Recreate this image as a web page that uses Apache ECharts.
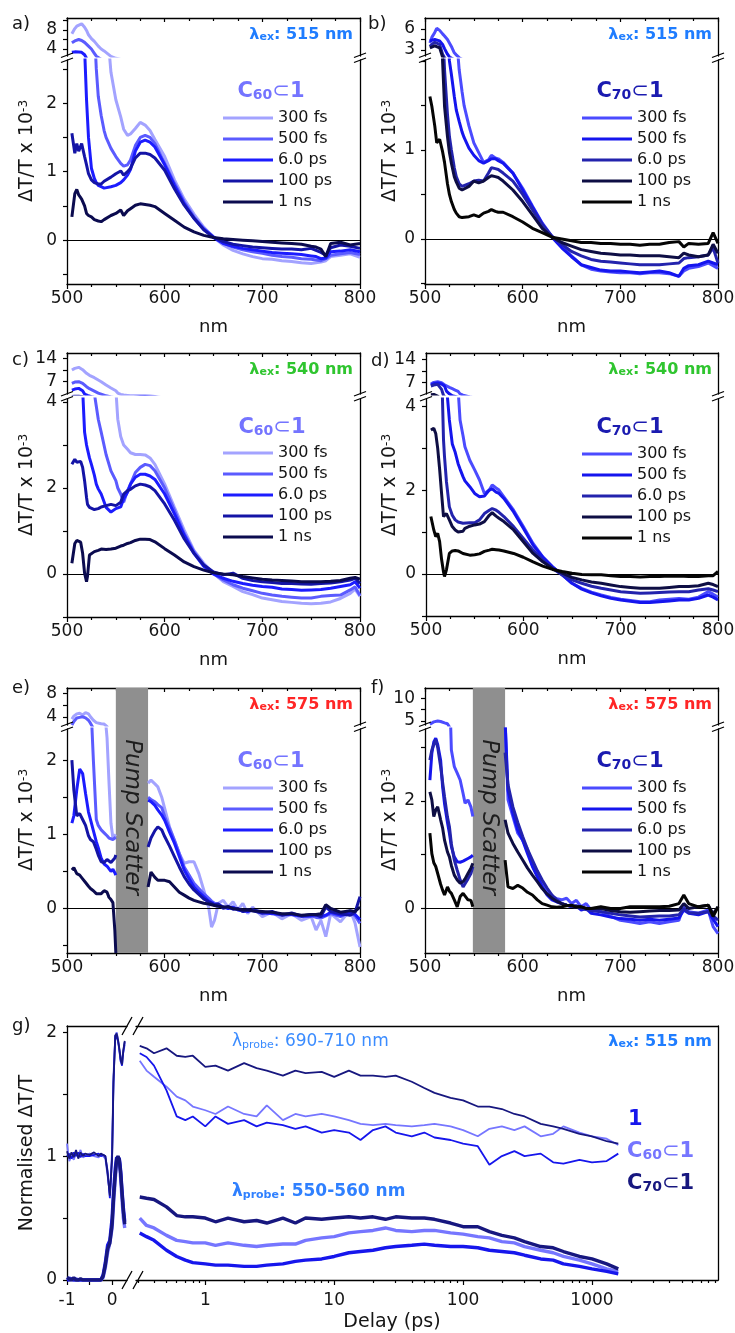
<!DOCTYPE html>
<html><head><meta charset="utf-8">
<script src="https://cdn.jsdelivr.net/npm/echarts@6/dist/echarts.min.js"></script>
<style>html,body{margin:0;padding:0;background:#fff}#c{width:735px;height:1333px}</style>
</head><body><div id="c"></div>
<script>
// ---------------- DATA ----------------
const delayNames = ['300 fs', '500 fs', '6.0 ps', '100 ps', '1 ns'];

// panel a : C60⊂1, λex 515 nm
const wlA = [505,508,510,512,515,518,520,522,525,528,530,532,535,538,540,545,550,555,558,562,565,570,575,580,585,590,600,610,620,630,640,650,660,670,680,690,700,710,720,730,740,750,755,760,765,770,780,790,800];
const a300fs = [7.2,8.3,8.8,9.2,9.3,8.6,7.9,7.0,6.2,5.6,5.2,4.6,4.0,3.6,3.3,2.45,2.05,1.8,1.62,1.53,1.55,1.63,1.72,1.68,1.6,1.47,1.22,0.88,0.6,0.38,0.19,0.04,-0.07,-0.15,-0.2,-0.24,-0.27,-0.28,-0.3,-0.31,-0.33,-0.34,-0.33,-0.32,-0.3,-0.24,-0.22,-0.2,-0.25];
const a500fs = [5.3,5.7,5.9,6.0,5.8,5.4,5.1,4.6,4.0,3.1,2.5,2.1,1.82,1.6,1.5,1.34,1.22,1.12,1.08,1.1,1.17,1.38,1.5,1.53,1.5,1.41,1.12,0.83,0.56,0.34,0.17,0.05,-0.04,-0.1,-0.14,-0.17,-0.19,-0.22,-0.24,-0.25,-0.27,-0.28,-0.29,-0.3,-0.27,-0.22,-0.2,-0.18,-0.21];
const a6ps = [3.3,3.4,3.4,3.35,3.3,2.8,2.05,1.5,1.05,0.9,0.84,0.8,0.78,0.76,0.76,0.78,0.8,0.84,0.88,0.95,1.03,1.3,1.43,1.46,1.43,1.36,1.1,0.8,0.53,0.32,0.16,0.04,-0.05,-0.09,-0.12,-0.14,-0.16,-0.18,-0.19,-0.2,-0.21,-0.23,-0.24,-0.27,-0.26,-0.17,-0.16,-0.14,-0.17];
const a100ps = [1.56,1.27,1.41,1.3,1.41,1.22,1.1,0.97,0.88,0.84,0.82,0.82,0.82,0.86,0.88,0.92,0.97,1.01,0.95,1.0,1.05,1.2,1.27,1.27,1.25,1.2,1.02,0.75,0.51,0.32,0.15,0.04,-0.02,-0.06,-0.08,-0.1,-0.11,-0.12,-0.13,-0.13,-0.14,-0.12,-0.15,-0.18,-0.22,-0.11,-0.07,-0.09,-0.12];
const a1ns = [0.34,0.68,0.74,0.66,0.6,0.5,0.39,0.36,0.34,0.3,0.29,0.28,0.27,0.3,0.32,0.36,0.39,0.44,0.36,0.43,0.46,0.51,0.53,0.52,0.51,0.49,0.39,0.29,0.19,0.12,0.07,0.04,0.02,0.01,0.0,-0.01,-0.02,-0.03,-0.04,-0.05,-0.06,-0.09,-0.1,-0.13,-0.24,-0.05,-0.03,-0.07,-0.05];

// panel b : C70⊂1, λex 515 nm
const wlB = [505,507,510,512,515,518,520,523,525,527,530,532,535,538,540,545,550,555,560,565,568,572,575,580,590,600,610,620,630,640,650,660,670,680,690,700,710,720,730,740,750,760,765,770,780,790,795,800];
const b300fs = [4.0,4.8,5.5,6.1,5.8,5.3,5.0,4.5,4.0,3.5,2.6,2.3,1.9,1.65,1.5,1.27,1.08,0.97,0.86,0.89,0.94,0.91,0.9,0.86,0.74,0.57,0.37,0.18,0.03,-0.08,-0.19,-0.29,-0.34,-0.36,-0.37,-0.38,-0.38,-0.39,-0.38,-0.38,-0.39,-0.42,-0.36,-0.33,-0.31,-0.27,-0.3,-0.33];
const b500fs = [4.3,4.4,4.5,4.4,4.3,3.8,3.2,2.4,2.0,1.85,1.6,1.45,1.32,1.2,1.14,1.02,0.94,0.88,0.85,0.88,0.9,0.9,0.88,0.85,0.74,0.55,0.36,0.17,0.02,-0.1,-0.2,-0.29,-0.32,-0.35,-0.36,-0.36,-0.37,-0.38,-0.37,-0.36,-0.38,-0.42,-0.33,-0.3,-0.29,-0.25,-0.27,-0.29];
const b6ps = [3.5,3.8,4.1,4.0,3.8,2.4,1.9,1.4,1.15,1.0,0.8,0.7,0.62,0.59,0.58,0.62,0.65,0.66,0.65,0.74,0.8,0.79,0.78,0.74,0.65,0.5,0.33,0.16,0.03,-0.06,-0.14,-0.19,-0.23,-0.25,-0.26,-0.27,-0.28,-0.29,-0.29,-0.29,-0.28,-0.27,-0.22,-0.21,-0.2,-0.18,-0.1,-0.27];
const b100ps = [3.3,3.4,3.6,3.5,3.3,2.0,1.49,1.15,0.97,0.85,0.7,0.64,0.57,0.55,0.54,0.59,0.65,0.63,0.65,0.69,0.71,0.7,0.69,0.65,0.55,0.42,0.27,0.12,0.02,-0.04,-0.08,-0.12,-0.14,-0.16,-0.17,-0.18,-0.18,-0.19,-0.19,-0.19,-0.2,-0.21,-0.16,-0.18,-0.2,-0.18,-0.06,-0.16];
const b1ns = [1.6,1.49,1.27,1.08,1.12,0.98,0.86,0.62,0.5,0.42,0.33,0.29,0.25,0.24,0.24,0.25,0.27,0.25,0.29,0.31,0.33,0.31,0.3,0.3,0.25,0.19,0.12,0.07,0.02,0.0,-0.02,-0.04,-0.04,-0.05,-0.05,-0.06,-0.06,-0.07,-0.06,-0.06,-0.04,-0.03,-0.09,-0.05,-0.06,-0.05,0.07,-0.05];

// panel c : C60⊂1, λex 540 nm
const wlC = [505,508,510,512,514,516,518,520,521,523,525,528,530,532,535,540,545,550,552,555,558,562,565,570,575,580,585,590,600,610,620,630,640,650,660,670,680,690,700,710,720,730,740,750,760,770,780,790,795,800];
const c300fs = [10.5,11.0,11.3,11.3,11.1,10.6,10.1,9.5,9.3,8.9,8.5,8.2,7.7,7.5,7.0,6.0,5.1,4.3,3.6,3.2,3.0,2.9,2.82,2.78,2.78,2.77,2.7,2.55,2.09,1.55,1.02,0.55,0.25,0.02,-0.18,-0.29,-0.41,-0.48,-0.56,-0.6,-0.64,-0.66,-0.68,-0.69,-0.68,-0.65,-0.57,-0.45,-0.35,-0.52];
const c500fs = [6.5,6.9,7.0,7.0,6.8,6.5,6.2,5.5,5.3,4.9,4.5,4.2,3.9,3.6,3.3,2.78,2.4,2.17,2.0,1.86,1.67,1.94,2.09,2.36,2.48,2.55,2.52,2.4,2.0,1.48,0.94,0.52,0.21,0.0,-0.14,-0.25,-0.33,-0.39,-0.45,-0.49,-0.52,-0.54,-0.56,-0.56,-0.52,-0.5,-0.49,-0.37,-0.3,-0.5];
const c6ps = [4.5,4.8,5.0,5.0,4.9,4.3,3.3,3.0,2.9,2.7,2.55,2.3,2.09,1.98,1.86,1.55,1.44,1.52,1.55,1.56,1.75,1.9,2.09,2.25,2.32,2.32,2.28,2.2,1.86,1.4,0.9,0.48,0.18,0.0,-0.1,-0.17,-0.22,-0.26,-0.29,-0.31,-0.35,-0.36,-0.38,-0.37,-0.36,-0.33,-0.29,-0.25,-0.18,-0.33];
const c100ps = [2.55,2.67,2.6,2.63,2.62,2.48,2.17,1.78,1.62,1.55,1.52,1.5,1.5,1.52,1.56,1.59,1.62,1.59,1.6,1.67,1.86,1.94,1.97,2.05,2.09,2.07,2.03,1.94,1.63,1.25,0.82,0.48,0.21,0.05,-0.02,0.02,-0.1,-0.15,-0.18,-0.2,-0.22,-0.22,-0.23,-0.24,-0.22,-0.21,-0.18,-0.14,-0.1,-0.22];
const c1ns = [0.25,0.71,0.78,0.78,0.74,0.48,0.02,-0.18,-0.05,0.44,0.48,0.52,0.53,0.55,0.58,0.57,0.58,0.6,0.62,0.65,0.67,0.71,0.73,0.78,0.81,0.81,0.8,0.75,0.59,0.44,0.28,0.17,0.09,0.03,0.0,-0.02,-0.06,-0.09,-0.12,-0.14,-0.15,-0.16,-0.18,-0.18,-0.18,-0.17,-0.15,-0.1,-0.08,-0.12];

// panel d : C70⊂1, λex 540 nm
const wlD = [505,508,510,512,514,516,518,519,521,524,527,530,533,535,538,540,545,550,555,560,565,568,572,575,580,590,600,610,620,630,640,650,660,670,680,690,700,710,720,730,740,750,760,770,780,790,795,800];
const d300fs = [6.6,7.1,7.3,7.3,7.2,7.0,6.6,6.4,6.0,5.6,5.2,4.8,4.4,3.67,3.3,3.03,2.71,2.48,2.24,1.92,2.0,2.12,2.05,2.0,1.84,1.52,1.13,0.73,0.41,0.17,-0.02,-0.22,-0.34,-0.43,-0.5,-0.56,-0.6,-0.63,-0.66,-0.66,-0.62,-0.6,-0.58,-0.6,-0.55,-0.42,-0.48,-0.55];
const d500fs = [6.3,6.7,6.9,6.9,6.8,6.6,6.3,6.0,4.5,3.67,3.1,2.9,2.63,2.5,2.32,2.22,2.08,1.92,1.84,1.86,2.0,2.03,1.95,1.92,1.8,1.48,1.09,0.69,0.4,0.17,-0.02,-0.22,-0.36,-0.45,-0.52,-0.58,-0.62,-0.65,-0.68,-0.68,-0.66,-0.64,-0.62,-0.62,-0.58,-0.5,-0.55,-0.62];
const d6ps = [6.0,6.3,6.5,6.5,6.3,5.0,3.19,2.8,2.2,1.6,1.4,1.29,1.24,1.21,1.21,1.21,1.22,1.22,1.29,1.44,1.52,1.56,1.52,1.47,1.37,1.13,0.85,0.57,0.33,0.13,-0.02,-0.14,-0.22,-0.29,-0.34,-0.38,-0.42,-0.44,-0.46,-0.45,-0.44,-0.43,-0.42,-0.42,-0.38,-0.35,-0.38,-0.42];
const d100ps = [3.43,3.47,3.35,3.0,2.5,1.92,1.37,1.4,1.44,1.29,1.13,1.05,1.0,0.97,1.02,1.09,1.14,1.17,1.19,1.25,1.4,1.46,1.38,1.33,1.25,1.05,0.77,0.49,0.29,0.13,0.02,-0.08,-0.14,-0.19,-0.22,-0.26,-0.3,-0.32,-0.34,-0.34,-0.34,-0.32,-0.3,-0.3,-0.28,-0.22,-0.25,-0.3];
const d1ns = [1.37,1.05,0.89,0.97,0.77,0.35,0.05,-0.06,0.1,0.49,0.55,0.56,0.55,0.52,0.49,0.47,0.45,0.46,0.48,0.54,0.57,0.59,0.58,0.57,0.55,0.49,0.4,0.29,0.19,0.11,0.06,0.02,-0.01,-0.02,-0.02,-0.04,-0.06,-0.06,-0.07,-0.06,-0.06,-0.05,-0.05,-0.06,-0.06,-0.04,-0.04,0.06];

// panel e : C60⊂1, λex 575 nm (null = hidden by pump scatter)
const wlE = [505,507,510,513,516,519,522,524,527,530,532,535,538,541,543,545,547,549,550,566,583,586,590,593,597,600,605,610,615,620,625,630,635,640,645,648,651,655,660,665,670,675,680,685,690,700,710,720,730,740,750,755,760,765,770,780,790,795,800];
const e300fs = [3.6,4.1,4.5,4.6,4.3,4.7,4.5,4.0,3.4,3.0,2.9,2.8,2.75,2.3,1.7,1.15,0.95,0.97,1.0,null,1.69,1.73,1.68,1.64,1.5,1.35,1.1,0.92,0.74,0.61,0.63,0.63,0.47,0.25,0.02,-0.25,-0.16,0.07,0.11,0.02,0.09,-0.02,0.07,-0.07,0.02,-0.11,-0.05,-0.14,-0.07,-0.16,-0.11,-0.29,-0.16,-0.38,-0.07,-0.18,-0.02,-0.2,-0.52];
const e500fs = [2.6,3.2,3.8,3.9,4.0,3.8,3.4,2.9,2.0,1.2,1.12,1.06,1.02,0.98,0.95,0.93,0.93,0.95,0.96,null,1.5,1.47,1.44,1.4,1.36,1.24,1.08,0.92,0.74,0.56,0.45,0.34,0.27,0.2,0.14,0.1,0.07,0.06,0.02,0.01,0.0,-0.01,-0.04,-0.02,-0.01,-0.07,-0.06,-0.09,-0.08,-0.11,-0.1,-0.12,-0.13,-0.1,-0.07,-0.11,-0.05,-0.1,-0.2];
const e6ps = [1.15,1.25,1.6,1.88,1.82,1.55,1.3,1.2,1.05,0.9,0.82,0.68,0.6,0.57,0.55,0.5,0.53,0.48,0.45,null,1.46,1.44,1.39,1.33,1.26,1.19,1.03,0.88,0.7,0.52,0.4,0.29,0.22,0.16,0.1,0.08,0.05,0.04,0.02,0.0,0.02,-0.02,-0.03,-0.04,-0.02,-0.05,-0.07,-0.08,-0.08,-0.1,-0.1,-0.08,-0.11,-0.09,-0.05,-0.09,-0.06,-0.08,-0.15];
const e100ps = [2.0,1.6,1.25,1.28,1.2,1.12,0.98,0.93,0.9,0.8,0.72,0.63,0.62,0.66,0.65,0.62,0.64,0.68,0.72,null,0.83,0.95,1.05,1.1,1.06,0.97,0.84,0.7,0.56,0.43,0.33,0.25,0.19,0.13,0.09,0.07,0.05,0.06,0.0,0.03,-0.01,0.0,-0.04,-0.02,-0.03,-0.06,-0.04,-0.09,-0.06,-0.1,-0.08,-0.09,-0.11,0.02,-0.04,-0.07,-0.09,-0.05,0.16];
const e1ns = [0.52,0.55,0.47,0.45,0.4,0.35,0.3,0.27,0.24,0.2,0.18,0.2,0.24,0.22,0.15,0.12,0.08,-0.3,-0.6,null,0.29,0.49,0.42,0.38,0.38,0.38,0.36,0.29,0.22,0.18,0.14,0.11,0.09,0.07,0.06,0.05,0.04,0.03,0.02,0.02,0.0,-0.01,-0.02,-0.02,-0.03,-0.04,-0.05,-0.07,-0.07,-0.09,-0.08,-0.08,-0.07,0.05,0.0,-0.05,-0.03,-0.04,0.02];

// panel f : C70⊂1, λex 575 nm
const wlF = [505,507,509,511,513,516,518,520,523,525,527,530,533,536,539,541,544,547,549,566,582,585,590,595,600,605,610,615,620,625,630,635,640,645,650,655,660,665,670,680,690,700,710,720,730,740,750,760,765,770,780,790,795,800];
const f300fs = [4.3,4.6,4.8,4.9,5.0,4.9,4.7,4.6,4.4,4.2,2.95,2.64,2.52,2.39,2.14,1.96,2.02,1.89,1.71,null,3.5,2.02,1.71,1.4,1.27,1.1,0.8,0.6,0.45,0.33,0.22,0.18,0.16,0.19,0.09,0.15,0.03,0.09,-0.03,-0.06,-0.15,-0.22,-0.25,-0.28,-0.25,-0.28,-0.25,-0.22,0.06,-0.06,-0.09,-0.03,-0.34,-0.47];
const f500fs = [2.39,2.89,3.1,3.17,3.05,2.76,2.27,1.95,1.6,1.4,1.15,0.96,0.87,0.86,0.88,0.9,0.93,0.96,0.99,null,3.5,2.2,1.77,1.46,1.27,1.02,0.78,0.59,0.4,0.25,0.16,0.12,0.09,0.06,0.03,0.05,-0.03,0.0,-0.09,-0.12,-0.16,-0.19,-0.2,-0.22,-0.2,-0.22,-0.2,-0.18,-0.03,-0.09,-0.12,-0.06,-0.2,-0.34];
const f6ps = [2.76,2.95,3.05,3.14,3.0,2.64,2.35,2.08,1.7,1.52,1.2,0.9,0.71,0.53,0.4,0.43,0.55,0.65,0.78,null,2.9,2.3,1.89,1.6,1.34,1.1,0.9,0.7,0.53,0.38,0.25,0.16,0.09,0.06,0.04,0.02,0.0,-0.02,-0.04,-0.06,-0.09,-0.12,-0.14,-0.16,-0.15,-0.14,-0.14,-0.12,0.0,-0.08,-0.09,-0.06,-0.14,-0.22];
const f100ps = [2.17,2.02,1.71,1.83,1.89,1.65,1.5,1.27,1.05,0.96,0.8,0.62,0.53,0.47,0.5,0.55,0.65,0.75,0.84,null,1.65,1.4,1.21,1.05,0.9,0.75,0.62,0.5,0.37,0.27,0.19,0.13,0.09,0.06,0.05,0.04,0.03,0.0,0.0,0.0,-0.04,-0.06,-0.07,-0.06,-0.05,-0.04,-0.04,-0.03,0.09,0.0,0.03,0.06,-0.1,0.03];
const f1ns = [1.4,1.02,0.85,0.78,0.65,0.45,0.34,0.25,0.4,0.32,0.28,0.16,0.03,0.22,0.28,0.25,0.16,0.15,0.03,null,0.9,0.4,0.37,0.43,0.38,0.3,0.25,0.16,0.09,0.06,0.03,0.02,0.03,0.05,0.06,0.02,0.03,0.0,0.0,0.03,0.0,0.0,0.03,0.03,0.03,0.03,0.04,0.09,0.25,0.09,0.03,0.06,-0.15,0.03];

// pump scatter regions (nm)
const ePump = [550, 583];
const fPump = [549, 582];

// panel g : kinetics
const gLinT = [-1,-0.95,-0.9,-0.85,-0.8,-0.75,-0.7,-0.65,-0.6,-0.5,-0.4,-0.3,-0.25,-0.2,-0.15,-0.1,-0.05,0,0.03,0.07,0.1,0.13,0.16,0.19,0.22,0.25,0.28];
const gLinUpC70 = [1.04,0.98,1.03,0.99,1.05,0.98,1.03,1.0,1.02,1.01,1.03,1.0,1.02,1.01,1.0,0.86,0.68,1.0,1.6,1.97,1.99,1.94,1.87,1.78,1.74,1.86,1.93];
const gLinUpC60 = [1.1,0.96,1.0,0.97,1.02,1.0,1.05,0.99,1.0,1.02,1.0,0.99,1.01,1.0,0.98,0.84,0.7,1.05,1.65,1.96,2.0,1.95,1.85,1.76,1.75,1.84,1.9];
const gLinUp1 = [1.0,1.02,0.98,1.03,1.0,1.03,0.99,1.02,1.0,1.0,1.01,1.02,1.0,1.01,1.0,0.88,0.66,0.98,1.58,1.98,1.99,1.93,1.86,1.77,1.73,1.85,1.92];
const gLinLoC70 = [0.02,0.01,0.0,0.02,0.0,0.0,0.01,0.0,0.0,0.0,0.0,0.0,0.0,0.03,0.12,0.25,0.3,0.45,0.65,0.85,0.97,1.0,0.97,0.86,0.7,0.55,0.45];
const gLinLoC60 = [0.0,0.02,0.0,0.0,0.01,0.0,0.0,0.0,0.0,0.0,0.0,0.0,0.0,0.02,0.1,0.22,0.3,0.42,0.6,0.82,0.95,0.99,0.96,0.82,0.65,0.5,0.42];
const gLinLo1 = [0.0,0.0,0.01,0.0,0.0,0.0,0.0,0.0,0.0,0.0,0.0,0.0,0.0,0.04,0.14,0.28,0.32,0.5,0.7,0.9,0.99,1.0,0.98,0.88,0.72,0.58,0.47];
const gLogT = [0.31,0.35,0.4,0.5,0.6,0.7,0.8,1,1.2,1.5,2,2.5,3,4,5,6,8,10,13,16,20,25,30,40,50,60,80,100,130,160,200,250,300,400,500,600,800,1000,1300,1600];
const gUpC70 = [1.89,1.87,1.83,1.87,1.81,1.8,1.81,1.72,1.73,1.69,1.75,1.71,1.69,1.65,1.69,1.67,1.68,1.64,1.69,1.65,1.65,1.64,1.65,1.6,1.55,1.51,1.47,1.45,1.4,1.4,1.38,1.34,1.32,1.26,1.24,1.22,1.18,1.16,1.12,1.1];
const gUpC60 = [1.77,1.69,1.64,1.56,1.48,1.45,1.4,1.37,1.34,1.4,1.34,1.32,1.41,1.29,1.34,1.32,1.34,1.32,1.29,1.26,1.25,1.26,1.25,1.24,1.25,1.26,1.24,1.21,1.16,1.22,1.24,1.21,1.24,1.16,1.18,1.24,1.19,1.16,1.14,1.09];
const gUp1 = [1.83,1.8,1.73,1.53,1.32,1.29,1.32,1.24,1.32,1.26,1.29,1.24,1.27,1.25,1.22,1.24,1.19,1.21,1.19,1.13,1.21,1.24,1.19,1.16,1.19,1.15,1.13,1.1,1.08,0.93,1.0,1.04,1.0,1.02,0.95,0.94,0.97,0.95,0.96,1.02];
const gLoC70 = [0.67,0.66,0.65,0.59,0.52,0.51,0.51,0.5,0.47,0.5,0.47,0.48,0.46,0.5,0.46,0.5,0.49,0.5,0.51,0.5,0.51,0.49,0.51,0.5,0.5,0.49,0.46,0.43,0.43,0.39,0.36,0.34,0.31,0.27,0.26,0.23,0.19,0.17,0.13,0.09];
const gLoC60 = [0.5,0.44,0.42,0.36,0.32,0.31,0.3,0.3,0.28,0.3,0.28,0.27,0.28,0.29,0.29,0.32,0.34,0.35,0.38,0.39,0.4,0.42,0.4,0.39,0.4,0.4,0.38,0.37,0.35,0.34,0.31,0.3,0.27,0.24,0.22,0.19,0.16,0.13,0.09,0.07];
const gLo1 = [0.38,0.35,0.32,0.24,0.19,0.16,0.14,0.13,0.12,0.12,0.11,0.11,0.12,0.13,0.15,0.16,0.17,0.19,0.22,0.23,0.24,0.26,0.27,0.28,0.29,0.28,0.27,0.27,0.26,0.24,0.23,0.22,0.2,0.17,0.16,0.13,0.11,0.09,0.07,0.05];

// tick values / labels
const aUpLabels = [4, 8], aUpTicks = [4, 6, 8, 10], aLowLabels = [0, 1, 2], aLowTicks = [-0.5, 0, 0.5, 1, 1.5, 2, 2.5];
const bUpLabels = [3, 6], bUpTicks = [3, 4.5, 6], bLowLabels = [0, 1], bLowTicks = [-0.5, 0, 0.5, 1, 1.5, 2];
const cUpLabels = [7, 14], cUpTicks = [7, 10.5, 14], cLowLabels = [0, 2, 4], cLowTicks = [-1, 0, 1, 2, 3, 4];
const dUpLabels = [7, 14], dUpTicks = [7, 10.5, 14], dLowLabels = [0, 2, 4], dLowTicks = [-1, 0, 1, 2, 3, 4];
const eUpLabels = [4, 8], eUpTicks = [4, 6, 8], eLowLabels = [0, 1, 2], eLowTicks = [-0.5, 0, 0.5, 1, 1.5, 2];
const fUpLabels = [5, 10], fUpTicks = [5, 7.5, 10], fLowLabels = [0, 2], fLowTicks = [0, 1, 2, 3];
const gLinLabels = [-1, 0], gLinTicks = [-1, -0.5, 0];
const gYLabels = [0, 1, 2], gYTicks = [0, 0.5, 1, 1.5, 2];

// ---------------- STYLE / LAYOUT ----------------
const FONT = "'DejaVu Sans', 'Liberation Sans', Arial, sans-serif";
const TXT = '#151515';
const colorsC60 = ['#a3a3ff', '#5b5bff', '#1c1cff', '#1414a6', '#0b0b4f'];
const colorsC70 = ['#4b4bff', '#1515ee', '#2323ad', '#0e0e44', '#050505'];
const C60COL = '#7474ff', C70COL = '#1b1bb0';
const EX515 = '#1f7dff', EX540 = '#2fc52f', EX575 = '#ff2626';
const gCol1 = '#1616ec', gColC60 = '#7676ff', gColC70 = '#17177f';

const panels = [
  {key:'a', wl:wlA, values:[a300fs,a500fs,a6ps,a100ps,a1ns], colors:colorsC60, host:'60', hostColor:C60COL, ex:'515', exColor:EX515, upL:aUpLabels, upT:aUpTicks, lowL:aLowLabels, lowT:aLowTicks, pump:null,
   g:{L:67,R:360,upT:18,upB:56,lowT:60,lowB:284,up:[2.53,10.53],low:[-0.64,2.63]}, legend:[223,110], title:[271,92], letter:[12,24], exPos:[353,35], yname:[27,151]},
  {key:'b', wl:wlB, values:[b300fs,b500fs,b6ps,b100ps,b1ns], colors:colorsC70, host:'70', hostColor:C70COL, ex:'515', exColor:EX515, upL:bUpLabels, upT:bUpTicks, lowL:bLowLabels, lowT:bLowTicks, pump:null,
   g:{L:425,R:718,upT:18,upB:56,lowT:60,lowB:284,up:[2.14,7.57],low:[-0.506,2.01]}, legend:[582,110], title:[630,92], letter:[368,24], exPos:[712,35], yname:[390,151]},
  {key:'c', wl:wlC, values:[c300fs,c500fs,c6ps,c100ps,c1ns], colors:colorsC60, host:'60', hostColor:C60COL, ex:'540', exColor:EX540, upL:cUpLabels, upT:cUpTicks, lowL:cLowLabels, lowT:cLowTicks, pump:null,
   g:{L:67,R:360,upT:353,upB:394,lowT:399,lowB:617,up:[3.32,15.59],low:[-1.0,4.07]}, legend:[223,445], title:[272,428], letter:[12,360], exPos:[353,370], yname:[27,485]},
  {key:'d', wl:wlD, values:[d300fs,d500fs,d6ps,d100ps,d1ns], colors:colorsC70, host:'70', hostColor:C70COL, ex:'540', exColor:EX540, upL:dUpLabels, upT:dUpTicks, lowL:dLowLabels, lowT:dLowTicks, pump:null,
   g:{L:426,R:718,upT:353,upB:394,lowT:399,lowB:616,up:[3.62,15.88],low:[-1.0,4.17]}, legend:[582,446], title:[630,428], letter:[371,361], exPos:[712,370], yname:[390,485]},
  {key:'e', wl:wlE, values:[e300fs,e500fs,e6ps,e100ps,e1ns], colors:colorsC60, host:'60', hostColor:C60COL, ex:'575', exColor:EX575, upL:eUpLabels, upT:eUpTicks, lowL:eLowLabels, lowT:eLowTicks, pump:ePump,
   g:{L:67,R:360,upT:688,upB:725,lowT:729,lowB:953,up:[2.59,8.93],low:[-0.6,2.42]}, legend:[223,780], title:[271,762], letter:[12,688], exPos:[353,705], yname:[27,820]},
  {key:'f', wl:wlF, values:[f300fs,f500fs,f6ps,f100ps,f1ns], colors:colorsC70, host:'70', hostColor:C70COL, ex:'575', exColor:EX575, upL:fUpLabels, upT:fUpTicks, lowL:fLowLabels, lowT:fLowTicks, pump:fPump,
   g:{L:425,R:718,upT:688,upB:725,lowT:729,lowB:953,up:[4.12,12.27],low:[-0.83,3.34]}, legend:[582,780], title:[630,762], letter:[371,688], exPos:[712,705], yname:[390,820]}
];

const AX_LINE = {show:true, onZero:false, lineStyle:{color:'#000', width:1.3}};
const TICK_STYLE = {color:'#000', width:1.2};
const LABEL = {show:true, fontSize:17, color:TXT, fontFamily:FONT};

const option = {animation:false, backgroundColor:'#fff', textStyle:{fontFamily:FONT},
  grid:[], xAxis:[], yAxis:[], series:[], legend:[]};
function addGrid(l,t,w,h){ option.grid.push({left:l, top:t, width:w, height:h, containLabel:false, outerBoundsMode:'none', show:false}); return option.grid.length-1; }
function addX(c){ option.xAxis.push(c); return option.xAxis.length-1; }
function addY(c){ option.yAxis.push(c); return option.yAxis.length-1; }
function leftY(gi, range, labels, ticks){
  return {type:'value', gridIndex:gi, position:'left', min:range[0], max:range[1], axisLine:AX_LINE,
    axisTick:{show:true, length:4, customValues:ticks, lineStyle:TICK_STYLE},
    axisLabel:Object.assign({}, LABEL, {customValues:labels, margin:10}), splitLine:{show:false}, minorTick:{show:false}};
}
function lineOnly(gi, pos){
  return {type:'value', gridIndex:gi, position:pos, min:0, max:1, axisLine:AX_LINE, axisTick:{show:false}, axisLabel:{show:false}, splitLine:{show:false}};
}

const graphics = [];
function rich(size, weight, color, va, style){ return {fontSize:size, fontWeight:weight, fontFamily:FONT, fill:color, verticalAlign:va||'middle', fontStyle:style||'normal'}; }
function T(x, y, text, richMap, align, rotation){
  graphics.push({type:'text', x:x, y:y, rotation:rotation||0, silent:true, z:100,
    style:{text:text, rich:richMap, align:align||'left', verticalAlign:'middle', textAlign:align||'left', textVerticalAlign:'middle', fill:TXT, fontFamily:FONT, fontSize:17}});
}
function L(x1,y1,x2,y2){ graphics.push({type:'line', silent:true, z:100, shape:{x1:x1,y1:y1,x2:x2,y2:y2}, style:{stroke:'#000', lineWidth:1.3}}); }

panels.forEach(function(p){
  const g = p.g, W = g.R - g.L;
  const gu = addGrid(g.L, g.upT, W, g.upB - g.upT);
  const gl = addGrid(g.L, g.lowT, W, g.lowB - g.lowT);
  const xl = addX({type:'value', gridIndex:gl, position:'bottom', min:500, max:800, interval:100, axisLine:AX_LINE,
    axisTick:{show:true, length:5, lineStyle:TICK_STYLE}, minorTick:{show:true, splitNumber:4, length:3, lineStyle:TICK_STYLE},
    axisLabel:Object.assign({}, LABEL, {margin:6}), splitLine:{show:false}, minorSplitLine:{show:false},
    name:'nm', nameLocation:'middle', nameGap:34, nameTextStyle:{fontSize:18, color:TXT, fontFamily:FONT}});
  const xu = addX({type:'value', gridIndex:gu, position:'top', min:500, max:800, interval:100, axisLine:AX_LINE,
    axisTick:{show:true, inside:true, length:4, lineStyle:TICK_STYLE}, minorTick:{show:true, splitNumber:4, length:3, lineStyle:TICK_STYLE},
    axisLabel:{show:false}, splitLine:{show:false}});
  const yu = addY(leftY(gu, g.up, p.upL, p.upT));
  const yl = addY(leftY(gl, g.low, p.lowL, p.lowT));
  addY(lineOnly(gu, 'right')); addY(lineOnly(gl, 'right'));
  p.xl = xl;
  p.values.forEach(function(vals, i){
    const name = p.key + ':' + delayNames[i];
    const data = p.wl.map(function(x, j){ return [x, vals[j] == null ? '-' : vals[j]]; });
    const base = {type:'line', name:name, data:data, symbol:'none', showSymbol:false, clip:true, connectNulls:false,
      lineStyle:{width:3, color:p.colors[i]}, itemStyle:{color:p.colors[i]}, color:p.colors[i], emphasis:{disabled:true}, z:3+i};
    const up = Object.assign({}, base, {xAxisIndex:xu, yAxisIndex:yu});
    const low = Object.assign({}, base, {xAxisIndex:xl, yAxisIndex:yl});
    if (i === 0 && p.pump) {
      up.markArea = {silent:true, itemStyle:{color:'#8f8f8f', opacity:1}, label:{show:false}, data:[[{xAxis:p.pump[0]},{xAxis:p.pump[1]}]]};
      low.markArea = {silent:true, itemStyle:{color:'#8f8f8f', opacity:1},
        label:{show:true, position:'inside', rotate:-90, offset:[-24,0], formatter:'Pump Scatter', fontSize:23, fontStyle:'italic', color:'#1e1e1e', fontFamily:FONT},
        data:[[{xAxis:p.pump[0]},{xAxis:p.pump[1]}]]};
    }
    if (i === 4) {
      low.markLine = {silent:true, symbol:['none','none'], label:{show:false}, lineStyle:{color:'#000', width:1.2, type:'solid'}, data:[{yAxis:0}]};
    }
    option.series.push(up, low);
  });
  option.legend.push({orient:'vertical', left:p.legend[0], top:p.legend[1], itemWidth:50, itemHeight:3, itemGap:5, selectedMode:false,
    icon:'rect', data:delayNames.map(function(n){ return p.key + ':' + n; }), formatter:function(n){ return n.slice(2); },
    textStyle:{fontSize:16, color:TXT, fontFamily:FONT}, padding:0});

  // texts
  T(p.letter[0], p.letter[1], '{m|' + p.key + ')}', {m:rich(18,'normal',TXT)});
  T(p.exPos[0], p.exPos[1], '{m|λ}{s|ex}{m|: ' + p.ex + ' nm}', {m:rich(16,'bold',p.exColor), s:rich(11,'bold',p.exColor,'bottom')}, 'right');
  T(p.title[0], p.title[1], '{m|C}{s|' + p.host + '}{n|⊂}{m|1}', {m:rich(21,'bold',p.hostColor), s:rich(14,'bold',p.hostColor,'bottom'), n:rich(21,'normal',p.hostColor)}, 'center');
  T(p.yname[0], p.yname[1], '{m|ΔT/T x 10}{s|-3}', {m:rich(19,'normal',TXT), s:rich(12,'normal',TXT,'top')}, 'center', Math.PI/2);
  // axis break marks
  const by = (g.upB + g.lowT) / 2;
  [g.L, g.R].forEach(function(x){ L(x-6, by-0.5, x+6, by-5); L(x-6, by+4.5, x+6, by); });
});

// ---------- panel g ----------
const gT = 1026, gB = 1280;
const g1 = addGrid(67, gT, 60, gB - gT);
const g2 = addGrid(136, gT, 582, gB - gT);
const gx1 = addX({type:'value', gridIndex:g1, position:'bottom', min:-1, max:0.33, axisLine:AX_LINE,
  axisTick:{show:true, length:5, customValues:gLinTicks, lineStyle:TICK_STYLE},
  axisLabel:Object.assign({}, LABEL, {customValues:gLinLabels, margin:12}), splitLine:{show:false}});
addX(lineOnly(g1, 'top'));
const gx2 = addX({type:'log', logBase:10, gridIndex:g2, position:'bottom', min:0.29, max:9500, axisLine:AX_LINE,
  axisTick:{show:true, length:5, lineStyle:TICK_STYLE},
  axisLabel:Object.assign({}, LABEL, {margin:12, showMinLabel:false, showMaxLabel:false, formatter:function(v){ return String(v); }}),
  splitLine:{show:false}, minorTick:{show:false}});
const logMinor = [];
[0.1, 1, 10, 100, 1000].forEach(function(d){ for (let k = 2; k <= 9; k++){ const v = k * d; if (v >= 0.29 && v <= 9500) logMinor.push(Math.log10(v)); } });
addX({type:'value', gridIndex:g2, position:'bottom', min:Math.log10(0.29), max:Math.log10(9500), axisLine:{show:false},
  axisTick:{show:true, length:3, customValues:logMinor, lineStyle:TICK_STYLE}, axisLabel:{show:false}, splitLine:{show:false}});
addX(lineOnly(g2, 'top'));
const gy1 = addY({type:'value', gridIndex:g1, position:'left', min:0, max:2.05, axisLine:AX_LINE,
  axisTick:{show:true, length:4, customValues:gYTicks, lineStyle:TICK_STYLE},
  axisLabel:Object.assign({}, LABEL, {customValues:gYLabels, margin:10}), splitLine:{show:false}});
const gy2 = addY({type:'value', gridIndex:g2, position:'left', min:0, max:2.05, show:false});
addY(lineOnly(g2, 'right'));

const gDefs = [
  {lin:gLinUpC60, log:gUpC60, color:gColC60, w:1.8},
  {lin:gLinUp1, log:gUp1, color:gCol1, w:1.8},
  {lin:gLinUpC70, log:gUpC70, color:gColC70, w:1.8},
  {lin:gLinLoC60, log:gLoC60, color:gColC60, w:3.4},
  {lin:gLinLo1, log:gLo1, color:gCol1, w:3.4},
  {lin:gLinLoC70, log:gLoC70, color:gColC70, w:3.4}
];
gDefs.forEach(function(d, i){
  const st = {type:'line', symbol:'none', showSymbol:false, clip:true, lineStyle:{width:d.w, color:d.color}, itemStyle:{color:d.color}, color:d.color, emphasis:{disabled:true}, z:3};
  option.series.push(Object.assign({}, st, {name:'g' + i + 'lin', xAxisIndex:gx1, yAxisIndex:gy1, data:gLinT.map(function(t, j){ return [t, d.lin[j]]; })}));
  option.series.push(Object.assign({}, st, {name:'g' + i + 'log', xAxisIndex:gx2, yAxisIndex:gy2, data:gLogT.map(function(t, j){ return [t, d.log[j]]; })}));
});

T(12, gT, '{m|g)}', {m:rich(18,'normal',TXT)});
T(712, 1042, '{m|λ}{s|ex}{m|: 515 nm}', {m:rich(16,'bold',EX515), s:rich(11,'bold',EX515,'bottom')}, 'right');
T(232, 1042, '{m|λ}{s|probe}{m|: 690-710 nm}', {m:rich(17,'normal','#3b8cff'), s:rich(11,'normal','#3b8cff','bottom')});
T(232, 1192, '{m|λ}{s|probe}{m|: 550-560 nm}', {m:rich(17,'bold','#2f80ff'), s:rich(11,'bold','#2f80ff','bottom')});
T(628, 1120, '{m|1}', {m:rich(21,'bold',gCol1)});
T(627, 1152, '{m|C}{s|60}{n|⊂}{m|1}', {m:rich(21,'bold',gColC60), s:rich(14,'bold',gColC60,'bottom'), n:rich(21,'normal',gColC60)});
T(627, 1184, '{m|C}{s|70}{n|⊂}{m|1}', {m:rich(21,'bold',gColC70), s:rich(14,'bold',gColC70,'bottom'), n:rich(21,'normal',gColC70)});
T(27, 1153, '{m|Normalised ΔT/T}', {m:rich(19,'normal',TXT)}, 'center', Math.PI/2);
T(392, 1322, '{m|Delay (ps)}', {m:rich(19,'normal',TXT)}, 'center');
[gT, gB].forEach(function(y){ L(122, y+9, 132, y-9); L(133, y+9, 143, y-9); });

const chart = echarts.init(document.getElementById('c'), null, {renderer:'canvas', width:735, height:1333});
chart.setOption(option);

// fill the gap of the pump-scatter band between the broken axis segments
const fills = [];
panels.forEach(function(p){
  if (!p.pump) return;
  const x0 = chart.convertToPixel({xAxisIndex:p.xl}, p.pump[0]);
  const x1 = chart.convertToPixel({xAxisIndex:p.xl}, p.pump[1]);
  fills.push({type:'rect', silent:true, z:1, shape:{x:x0, y:p.g.upB, width:x1-x0, height:p.g.lowT-p.g.upB}, style:{fill:'#8f8f8f'}});
});
chart.setOption({graphic:{elements:graphics.concat(fills)}});
</script>
</body></html>
